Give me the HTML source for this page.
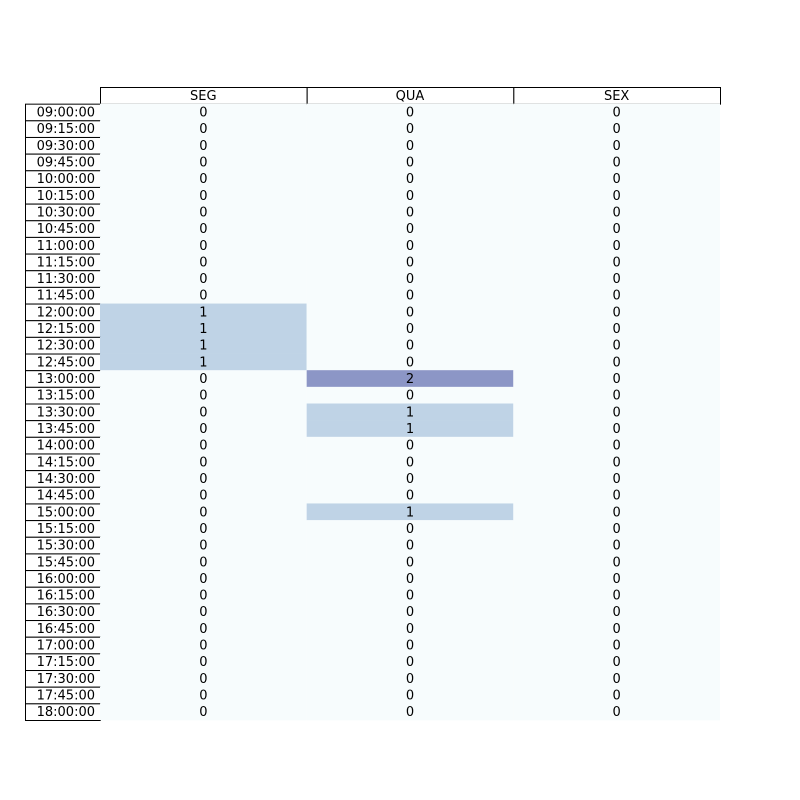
<!DOCTYPE html>
<html><head><meta charset="utf-8"><style>
body{margin:0;background:#fff;}
svg{display:block;font-family:"DejaVu Sans","Liberation Sans",sans-serif;}
</style></head><body>
<svg id="chart" width="800" height="800"></svg>
<script>
const columns = ["SEG","QUA","SEX"];
const times = ["09:00:00","09:15:00","09:30:00","09:45:00","10:00:00","10:15:00","10:30:00","10:45:00","11:00:00","11:15:00","11:30:00","11:45:00","12:00:00","12:15:00","12:30:00","12:45:00","13:00:00","13:15:00","13:30:00","13:45:00","14:00:00","14:15:00","14:30:00","14:45:00","15:00:00","15:15:00","15:30:00","15:45:00","16:00:00","16:15:00","16:30:00","16:45:00","17:00:00","17:15:00","17:30:00","17:45:00","18:00:00"];
const segValues = [0,0,0,0,0,0,0,0,0,0,0,0,1,1,1,1,0,0,0,0,0,0,0,0,0,0,0,0,0,0,0,0,0,0,0,0,0];
const quaValues = [0,0,0,0,0,0,0,0,0,0,0,0,0,0,0,0,2,0,1,1,0,0,0,0,1,0,0,0,0,0,0,0,0,0,0,0,0];
const sexValues = [0,0,0,0,0,0,0,0,0,0,0,0,0,0,0,0,0,0,0,0,0,0,0,0,0,0,0,0,0,0,0,0,0,0,0,0,0];
const colorScale = ["#f7fcfd","#bfd3e6","#8c96c6"];

const series = [segValues, quaValues, sexValues];
const svg = document.getElementById('chart');
const NS = "http://www.w3.org/2000/svg";
const top0 = 87, bottom = 720, left = 100, right = 720, labelLeft = 25;
const rowH = (bottom - top0) / (times.length + 1);
const colW = (right - left) / columns.length;
const xCol = i => left + i * colW;
const yRow = r => top0 + (r + 1) * rowH;
function mk(tag, attrs, txt){const e=document.createElementNS(NS,tag);for(const k in attrs)e.setAttribute(k,attrs[k]);if(txt!==undefined)e.textContent=txt;svg.appendChild(e);return e;}

columns.forEach((c,i)=>{
  const r = mk('rect',{x:xCol(i)+0.5,y:top0+0.5,width:colW,height:rowH,fill:'#fff',stroke:'#000','stroke-width':1});
  
  
  const t = mk('text',{x:xCol(i)+colW/2,y:top0+rowH/2+4.5,'text-anchor':'middle','font-size':13},c);
  
  
});
times.forEach((tm,r)=>{
  const y = yRow(r);
  const lr = mk('rect',{x:labelLeft+0.5,y:y+0.5,width:left-labelLeft,height:rowH,fill:'#fff',stroke:'#000','stroke-width':1});
  
  
  const lt = mk('text',{x:left-5,y:y+rowH/2+4.5,'text-anchor':'end','font-size':13},tm);
  
  
  series.forEach((vals,c)=>{
    const v = vals[r];
    const cell = mk('rect',{x:xCol(c),y:y,width:colW,height:rowH+0.3,fill:colorScale[Math.min(v,colorScale.length-1)]});
    
    
    const ct = mk('text',{x:xCol(c)+colW/2,y:y+rowH/2+4.5,'text-anchor':'middle','font-size':13},String(v));
    
    
  });
});
</script>
</body></html>
